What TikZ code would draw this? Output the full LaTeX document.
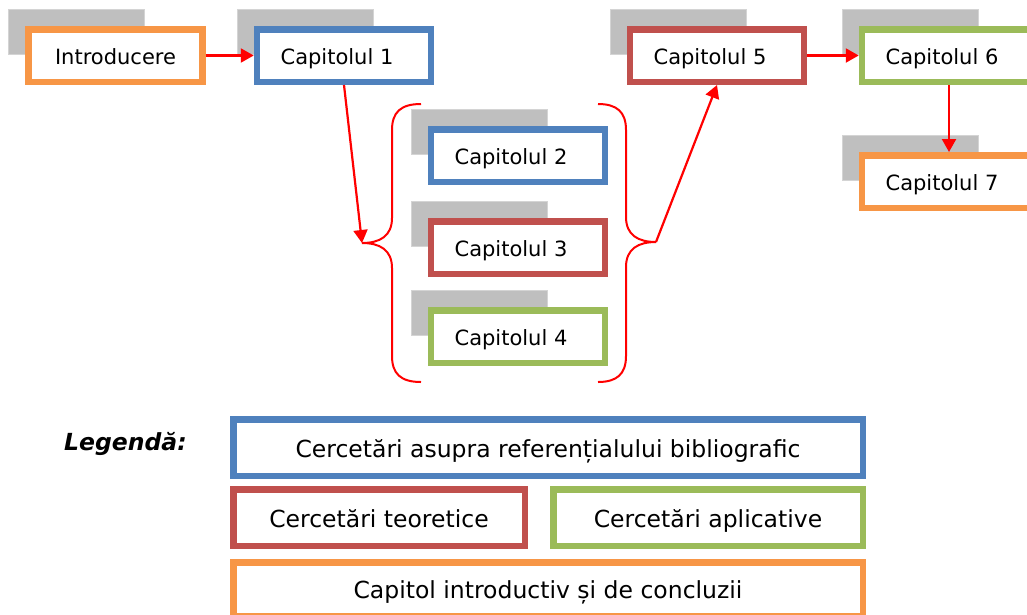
\documentclass[tikz,border=0pt]{standalone}
\usepackage{fontspec}
\setmainfont{DejaVu Sans}
\usetikzlibrary{arrows.meta}
\definecolor{cblue}{HTML}{4F81BD}
\definecolor{cred}{HTML}{C0504D}
\definecolor{cgreen}{HTML}{9BBB59}
\definecolor{corange}{HTML}{F79646}
\definecolor{shadowgray}{HTML}{BFBFBF}
\definecolor{shadowedge}{HTML}{D4D4D4}
\definecolor{arrowred}{HTML}{FF0000}
\newcommand\chapfont{\fontsize{21}{25}\selectfont}
\newcommand\legfont{\fontsize{23.5}{28}\selectfont}
\tikzset{
  chap/.style={draw, fill=white, line width=6.5pt, minimum width=174pt, minimum height=52.5pt,
    inner sep=0pt, font=\chapfont, text height=17pt, text depth=0pt},
  shadowbox/.style={fill=shadowgray, draw=shadowedge, line width=0.8pt, anchor=north west,
    minimum width=136pt, minimum height=45pt, inner sep=0pt},
  conn/.style={draw=arrowred, line width=2.2pt, -{Triangle[length=13pt,width=14pt]}},
  bracepath/.style={draw=arrowred, line width=2pt},
  legbox/.style={draw, fill=white, line width=6.5pt, minimum height=56.5pt, inner sep=0pt,
    font=\legfont, text height=19pt, text depth=0pt}
}
\begin{document}
\begin{tikzpicture}[x=1pt,y=-1pt]
\path[use as bounding box, clip] (0,0) rectangle (1027,614);
% shadows
\node[shadowbox] (s0) at (8,9) {};
\node[shadowbox] (s1) at (237,9) {};
\node[shadowbox] (s2) at (411,109) {};
\node[shadowbox] (s3) at (411,201) {};
\node[shadowbox] (s4) at (411,290) {};
\node[shadowbox] (s5) at (610,9) {};
\node[shadowbox] (s6) at (842,9) {};
\node[shadowbox] (s7) at (842,135) {};
% chapter boxes
\node[chap, draw=corange] (intro) at (115.5,55.5) {Introducere};
\node[chap, draw=cblue] (c1) at (344,55.5) {Capitolul 1\kern14pt};
\node[chap, draw=cblue] (c2) at (518,155.5) {Capitolul 2\kern14pt};
\node[chap, draw=cred] (c3) at (518,247.5) {Capitolul 3\kern14pt};
\node[chap, draw=cgreen] (c4) at (518,336.5) {Capitolul 4\kern14pt};
\node[chap, draw=cred] (c5) at (717,55.5) {Capitolul 5\kern14pt};
\node[chap, draw=cgreen] (c6) at (949,55.5) {Capitolul 6\kern14pt};
\node[chap, draw=corange] (c7) at (949,181.5) {Capitolul 7\kern14pt};
% braces
\coordinate (lb) at (362,243);
\coordinate (rb) at (656,242);
\draw[bracepath] (421,104) .. controls (401,104) and (392,112) .. (392,130) -- (392,218)
  .. controls (392,236) and (380,243) .. (lb)
  .. controls (380,243) and (392,250) .. (392,268) -- (392,356)
  .. controls (392,374) and (401,382) .. (421,382);
\draw[bracepath] (598,104) .. controls (617,104) and (626,112) .. (626,130) -- (626,217)
  .. controls (626,235) and (638,242) .. (rb)
  .. controls (638,242) and (626,249) .. (626,267) -- (626,356)
  .. controls (626,374) and (617,382) .. (598,382);
% connectors
\draw[conn] (intro.east) -- (c1.west);
\draw[conn] (c1.south) -- (lb);
\draw[conn] (rb) -- (c5.south);
\draw[conn] (c5.east) -- (c6.west);
\draw[conn] (c6.south) -- (c7.north);
% legend
\node[anchor=base west, inner sep=0pt, font=\legfont\bfseries\itshape] (leg) at (64,450) {Legendă:};
\node[legbox, draw=cblue, minimum width=629.5pt] (l1) at (548,447.5) {Cercetări asupra referențialului bibliografic};
\node[legbox, draw=cred, minimum width=291.5pt] (l2) at (379,517.5) {Cercetări teoretice};
\node[legbox, draw=cgreen, minimum width=309.5pt] (l3) at (708,517.5) {Cercetări aplicative};
\node[legbox, draw=corange, minimum width=629.5pt, minimum height=53.5pt] (l4) at (548,589) {Capitol introductiv și de concluzii};
\end{tikzpicture}
\end{document}
